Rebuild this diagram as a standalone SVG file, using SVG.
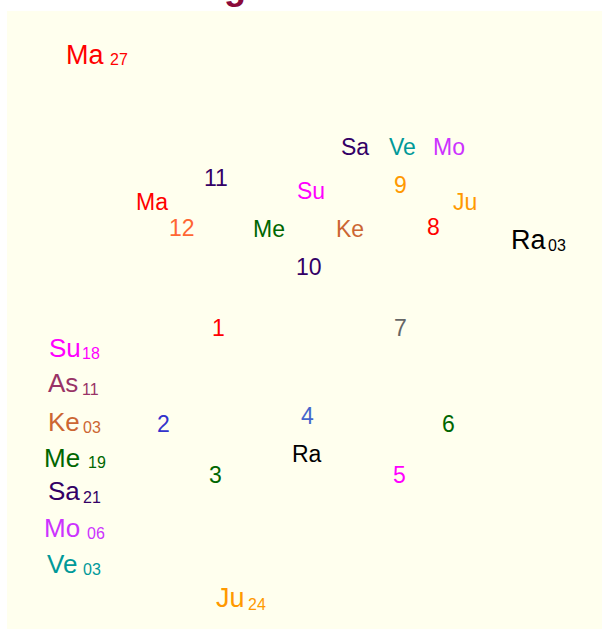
<svg xmlns="http://www.w3.org/2000/svg" width="602" height="629" viewBox="0 0 602 629">
<style>
text{font-family:"Liberation Sans",Arial,sans-serif}
.big{font-size:27px}
.mid{font-size:23px}
.sub{font-size:16px}
.lc{font-size:26px}
.ls{font-size:16px}
.red{fill:#ff0000}.mag{fill:#ff00ff}.mauve{fill:#993366}.ke{fill:#cc6633}.grn{fill:#006600}.pur{fill:#330066}.mo{fill:#cc33ff}.ve{fill:#009999}.ju{fill:#ff9900}.blk{fill:#000000}
</style>
<rect x="7" y="11" width="595" height="618" fill="#ffffee"/>
<text x="224" y="-1" font-size="36" font-weight="bold" fill="#8b0a3a">g</text>
<g id="corner-ma"><text class="big red" x="66" y="64">Ma</text><text class="sub red" x="110" y="65">27</text></g>
<g id="corner-ra"><text class="big blk" x="511" y="249">Ra</text><text class="sub blk" x="548" y="251">03</text></g>
<g id="corner-ju"><text class="big ju" x="216" y="607">Ju</text><text class="sub ju" x="248" y="610">24</text></g>
<g id="list">
<g id="l-su"><text class="lc mag" x="49" y="357">Su</text><text class="ls mag" x="82" y="359">18</text></g>
<g id="l-as"><text class="lc mauve" x="48" y="392">As</text><text class="ls mauve" x="82" y="395">11</text></g>
<g id="l-ke"><text class="lc ke" x="48" y="431">Ke</text><text class="ls ke" x="83" y="433">03</text></g>
<g id="l-me"><text class="lc grn" x="44" y="467">Me</text><text class="ls grn" x="88" y="468">19</text></g>
<g id="l-sa"><text class="lc pur" x="48" y="500">Sa</text><text class="ls pur" x="83" y="503">21</text></g>
<g id="l-mo"><text class="lc mo" x="44" y="537">Mo</text><text class="ls mo" x="87" y="539">06</text></g>
<g id="l-ve"><text class="lc ve" x="47" y="573">Ve</text><text class="ls ve" x="83" y="575">03</text></g>
</g>
<g id="houses" class="mid">
<g id="h1"><text class="mid red" x="212" y="336">1</text></g>
<g id="h2"><text class="mid" fill="#3333cc" x="157" y="432">2</text></g>
<g id="h3"><text class="mid grn" x="209" y="483">3</text></g>
<g id="h4"><text class="mid" fill="#4466cc" x="301" y="424">4</text></g>
<g id="h5"><text class="mid mag" x="393" y="483">5</text></g>
<g id="h6"><text class="mid grn" x="442" y="432">6</text></g>
<g id="h7"><text class="mid" fill="#666666" x="394" y="336">7</text></g>
<g id="h8"><text class="mid red" x="427" y="235">8</text></g>
<g id="h9"><text class="mid ju" x="394" y="193">9</text></g>
<g id="h10"><text class="mid pur" x="296" y="275">10</text></g>
<g id="h11"><text class="mid pur" x="204" y="186">11</text></g>
<g id="h12"><text class="mid" fill="#ff6633" x="169" y="236">12</text></g>
</g>
<g id="planets">
<g id="p-ma"><text class="mid red" x="136" y="210">Ma</text></g>
<g id="p-me"><text class="mid grn" x="253" y="237">Me</text></g>
<g id="p-su"><text class="mid mag" x="297" y="199">Su</text></g>
<g id="p-ke"><text class="mid ke" x="336" y="237">Ke</text></g>
<g id="p-sa"><text class="mid pur" x="341" y="155">Sa</text></g>
<g id="p-ve"><text class="mid ve" x="389" y="155">Ve</text></g>
<g id="p-mo"><text class="mid mo" x="433" y="155">Mo</text></g>
<g id="p-ju"><text class="mid ju" x="453" y="210">Ju</text></g>
<g id="p-ra"><text class="mid blk" x="292" y="462">Ra</text></g>
</g>
</svg>
